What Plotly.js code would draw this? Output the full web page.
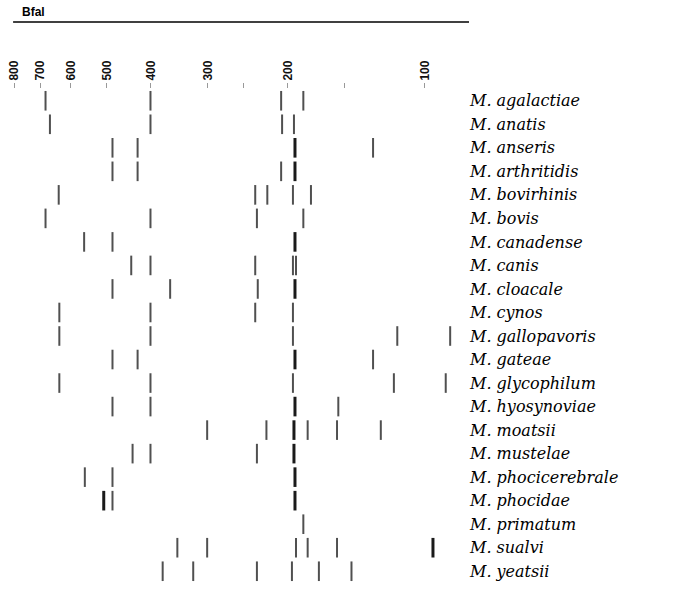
<!DOCTYPE html>
<html><head><meta charset="utf-8">
<script src="https://cdn.plot.ly/plotly-3.0.1.min.js"></script>
<style>html,body{margin:0;padding:0;background:#fff}#chart{width:685px;height:591px}</style>
</head><body><div id="chart"></div>
<script>
// Species (rows, top to bottom)
const species = ["M. agalactiae","M. anatis","M. anseris","M. arthritidis","M. bovirhinis","M. bovis","M. canadense","M. canis","M. cloacale","M. cynos","M. gallopavoris","M. gateae","M. glycophilum","M. hyosynoviae","M. moatsii","M. mustelae","M. phocicerebrale","M. phocidae","M. primatum","M. sualvi","M. yeatsii"];
// Fragment sizes (bp) per species
const bands = [
  [682, 401, 207, 185],
  [667, 401, 206, 194],
  [486, 428, 193, 130],
  [486, 428, 207, 193],
  [638, 236, 222, 195, 178],
  [682, 401, 234, 185],
  [561, 486, 193],
  [442, 401, 236, 195, 192],
  [486, 363, 233, 193],
  [636, 401, 236, 195],
  [636, 401, 195, 115, 88],
  [486, 428, 193, 130],
  [636, 401, 195, 117, 90],
  [486, 401, 193, 155],
  [301, 223, 194, 181, 156, 125],
  [439, 401, 234, 194],
  [559, 486, 193],
  [508, 486, 193],
  [185],
  [350, 301, 192, 181, 156, 96],
  [377, 323, 234, 196, 171, 145]
];
// Band intensity (1 = faint, 2 = strong)
const strength = [
  [1,1,1,1],
  [1,1,1,1],
  [1,1,2,1],
  [1,1,1,2],
  [1,1,1,1,1],
  [1,1,1,1],
  [1,1,2],
  [1,1,1,1,1],
  [1,1,1,2],
  [1,1,1,1],
  [1,1,1,1,1],
  [1,1,2,1],
  [1,1,1,1,1],
  [1,1,2,1],
  [1,1,2,1,1,1],
  [1,1,1,2],
  [1,1,2],
  [2,1,2],
  [1],
  [1,1,1,1,1,2],
  [1,1,1,1,1,1]
];
const tickVals = [800,700,600,500,400,300,250,200,150,100];
const tickText = ["800","700","600","500","400","300","","200","","100"];

const xs1=[],ys1=[],xs2=[],ys2=[];
bands.forEach((row,i)=>row.forEach((v,j)=>{
  if(strength[i][j]===2){xs2.push(v);ys2.push(i);} else {xs1.push(v);ys1.push(i);}
}));
const mk=(x,y,w,c)=>({x:x,y:y,type:'scatter',mode:'markers',hoverinfo:'x+y',cliponaxis:false,
  marker:{symbol:'line-ns',size:14,color:c,line:{width:w,color:c}},showlegend:false});
const data=[mk(xs1,ys1,2,'#505050'),mk(xs2,ys2,3,'#1a1a1a')];

const layout={
  width:685,height:591,paper_bgcolor:'#fff',plot_bgcolor:'#fff',
  margin:{l:14,r:216,t:89,b:8},
  title:{text:'<b>Bfal</b>',xref:'container',yref:'container',x:22/685,xanchor:'left',y:1-12/591,yanchor:'middle',
    font:{family:'Liberation Sans, Arial',size:12,color:'#000'}},
  xaxis:{type:'log',side:'top',range:[Math.log10(800),Math.log10(80)],tickvals:tickVals,ticktext:tickText,
    tickangle:-90,ticks:'outside',ticklen:5,tickcolor:'#999',tickwidth:1,
    tickfont:{family:'Liberation Sans, Arial',size:12,color:'#111',weight:'bold'},
    showgrid:false,zeroline:false,showline:false},
  yaxis:{side:'right',range:[20.5,-0.5],tickvals:species.map((s,i)=>i),ticktext:species,
    ticks:'',showgrid:false,zeroline:false,showline:false,
    tickfont:{family:'DejaVu Serif',size:16,color:'#000',style:'italic'}},
  shapes:[{type:'line',xref:'paper',yref:'paper',x0:-0.002,x1:1.0,y0:1+(89-22)/494,y1:1+(89-22)/494,
    line:{color:'#000',width:1.5}}]
};
Plotly.newPlot('chart',data,layout,{staticPlot:false,displayModeBar:false});
</script></body></html>
